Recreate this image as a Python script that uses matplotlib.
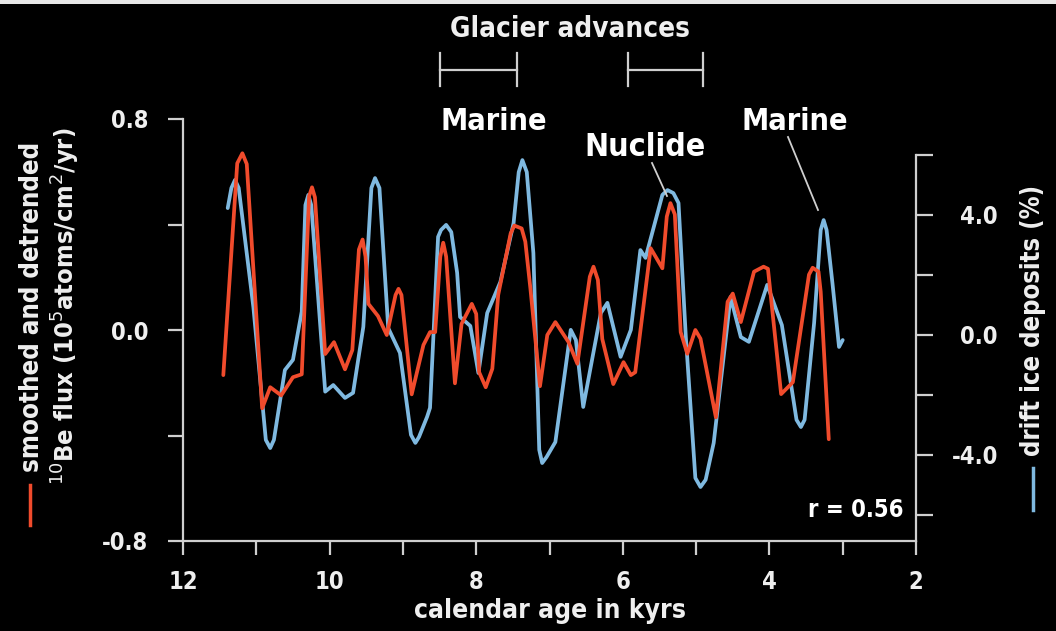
import matplotlib
matplotlib.use("Agg")
import matplotlib.pyplot as plt
import matplotlib.transforms as mtransforms

# ---------------- data ----------------
be_age = [11.45, 11.26, 11.19, 11.13, 10.92, 10.81, 10.66, 10.50, 10.38, 10.28,
          10.24, 10.20, 10.06, 9.94, 9.79, 9.69, 9.60, 9.55, 9.51, 9.47,
          9.34, 9.22, 9.10, 9.06, 9.02, 8.88, 8.72, 8.63, 8.56, 8.49,
          8.45, 8.41, 8.29, 8.20, 8.06, 8.00, 7.96, 7.87, 7.78, 7.70,
          7.53, 7.48, 7.38, 7.33, 7.26, 7.13, 7.03, 6.92, 6.74, 6.62,
          6.45, 6.40, 6.34, 6.28, 6.13, 5.99, 5.89, 5.83, 5.62, 5.46,
          5.40, 5.35, 5.29, 5.21, 5.12, 5.01, 4.94, 4.73, 4.57, 4.50,
          4.39, 4.21, 4.08, 4.02, 3.84, 3.68, 3.46, 3.41, 3.33, 3.30,
          3.19]
be_flux = [-0.171, 0.632, 0.670, 0.629, -0.297, -0.217, -0.248, -0.179, -0.168, 0.507,
           0.541, 0.503, -0.091, -0.046, -0.149, -0.076, 0.305, 0.343, 0.278, 0.099,
           0.053, -0.019, 0.133, 0.156, 0.133, -0.244, -0.057, -0.008, -0.008, 0.278,
           0.331, 0.278, -0.202, 0.023, 0.099, 0.061, -0.160, -0.217, -0.147, 0.133,
           0.366, 0.396, 0.385, 0.335, 0.156, -0.213, -0.019, 0.030, -0.046, -0.128,
           0.202, 0.240, 0.190, -0.034, -0.205, -0.122, -0.171, -0.160, 0.310, 0.234,
           0.430, 0.481, 0.438, -0.008, -0.090, 0.000, -0.033, -0.331, 0.107, 0.138,
           0.030, 0.221, 0.240, 0.232, -0.243, -0.198, 0.210, 0.236, 0.221, 0.145,
           -0.414]

ice_age = [11.39, 11.34, 11.29, 11.24, 11.04, 10.87, 10.81, 10.76, 10.61, 10.50,
           10.38, 10.33, 10.29, 10.25, 10.06, 9.95, 9.79, 9.68, 9.54, 9.43,
           9.38, 9.32, 9.20, 9.04, 8.89, 8.83, 8.78, 8.67, 8.63, 8.52,
           8.48, 8.41, 8.34, 8.26, 8.22, 8.08, 7.97, 7.85, 7.67, 7.49,
           7.42, 7.37, 7.31, 7.22, 7.14, 7.10, 7.04, 6.92, 6.71, 6.64,
           6.54, 6.30, 6.21, 6.03, 5.89, 5.76, 5.69, 5.46, 5.39, 5.31,
           5.24, 5.14, 5.01, 4.94, 4.87, 4.76, 4.53, 4.39, 4.28, 4.03,
           3.83, 3.63, 3.57, 3.52, 3.39, 3.30, 3.26, 3.22, 3.14, 3.05,
           3.00]
ice_pct = [4.23, 4.90, 5.17, 4.90, 0.93, -3.50, -3.77, -3.50, -1.17, -0.83,
           0.78, 4.33, 4.67, 4.33, -1.89, -1.67, -2.10, -1.93, 0.27, 4.90,
           5.23, 4.90, 0.23, -0.60, -3.33, -3.60, -3.40, -2.73, -2.43, 3.27,
           3.50, 3.67, 3.43, 2.07, 0.60, 0.30, -1.27, 0.73, 1.77, 3.73,
           5.43, 5.83, 5.43, 2.73, -3.83, -4.27, -4.07, -3.57, 0.17, -0.17,
           -2.40, 0.73, 1.07, -0.73, 0.17, 2.83, 2.57, 4.67, 4.83, 4.73,
           4.40, -0.07, -4.77, -5.07, -4.83, -3.60, 1.27, -0.07, -0.23, 1.67,
           0.33, -2.83, -3.07, -2.83, 0.40, 3.50, 3.83, 3.50, 1.73, -0.40,
           -0.17]

glacier_advances = [(8.50, 7.45), (5.93, 4.90)]

x_ticks = [12, 11, 10, 9, 8, 7, 6, 5, 4, 3, 2]
x_labels = ["12", "", "10", "", "8", "", "6", "", "4", "", "2"]
left_ticks = [-0.8, -0.4, 0.0, 0.4, 0.8]
left_labels = ["-0.8", "", "0.0", "", "0.8"]
right_ticks = [-6, -4, -2, 0, 2, 4, 6]
right_labels = ["", "-4.0", "", "0.0", "", "4.0", ""]

# ---------------- style ----------------
RED = "#f04b2c"
BLUE = "#7fb9e0"
FG = "#cfcfcf"
TXT = "#efefef"
W, H = 1056, 631
FONT = dict(family="DejaVu Sans", fontweight="bold", fontstretch="condensed")

fig = plt.figure(figsize=(W / 100, H / 100), dpi=100, facecolor="black")
ax = fig.add_axes([183 / W, (H - 541) / H, (916 - 183) / W, (541 - 119) / H])
ax.set_facecolor("black")
ax2 = ax.twinx()

ax2.plot(ice_age, ice_pct, color=BLUE, lw=2.7, solid_joinstyle="round",
         solid_capstyle="round", zorder=2)
ax.plot(be_age, be_flux, color=RED, lw=2.7, solid_joinstyle="round",
        solid_capstyle="round", zorder=3)
ax.set_zorder(ax2.get_zorder() + 1)
ax.patch.set_visible(False)
ax2.patch.set_visible(True)
ax2.patch.set_facecolor("black")

ax.set_xlim(12, 2)
ax.set_ylim(-0.8, 0.8)
ax2.set_ylim(-6.87, 7.2)

for a in (ax, ax2):
    a.spines["top"].set_visible(False)
    for s in a.spines.values():
        s.set_color(FG)
        s.set_linewidth(1.6)
ax.spines["right"].set_visible(False)
ax2.spines["left"].set_visible(False)
ax2.spines["bottom"].set_visible(False)
ax.spines["left"].set_bounds(-0.8, 0.8)
ax2.spines["right"].set_bounds(-6.87, 6)

ax.set_xticks(x_ticks)
ax.set_xticklabels(x_labels)
ax.set_yticks(left_ticks)
ax.set_yticklabels(left_labels)
ax2.set_yticks(right_ticks)
ax2.set_yticklabels(right_labels)

ax.tick_params(axis="x", length=10, width=1.6, color=FG, labelcolor=TXT, pad=11,
               labelsize=17)
ax.tick_params(axis="y", length=11, width=1.6, color=FG, labelcolor=TXT, pad=14,
               labelsize=17)
ax2.tick_params(axis="y", length=12, width=1.6, color=FG, labelcolor=TXT, pad=47,
                labelsize=17)
for lab in ax.get_xticklabels() + ax.get_yticklabels() + ax2.get_yticklabels():
    lab.set_fontweight("bold")
    lab.set_fontstretch("condensed")
for lab in ax2.get_yticklabels():
    lab.set_horizontalalignment("right")

ax.set_xlabel("calendar age in kyrs", color=TXT, fontsize=19, labelpad=3, **FONT)


def fx(px):
    return px / W


def fy(py):
    return 1 - py / H


# left y label (two lines) with red legend dash
fig.text(fx(32), fy(307), "smoothed and detrended", rotation=90, color=TXT,
         fontsize=18.5, ha="center", va="center", **FONT)
fig.text(fx(66), fy(306), r"$^{10}$Be flux (10$^{5}$atoms/cm$^{2}$/yr)",
         rotation=90, color=TXT, fontsize=18.3, ha="center", va="center", **FONT)
fig.add_artist(plt.Line2D([fx(30), fx(30)], [fy(525), fy(485)], color=RED, lw=2.5))

# right y label with blue legend dash
fig.text(fx(1033), fy(320), "drift ice deposits (%)", rotation=90, color=TXT,
         fontsize=18.4, ha="center", va="center", **FONT)
fig.add_artist(plt.Line2D([fx(1033), fx(1033)], [fy(510), fy(468)], color=BLUE, lw=2.5))

# glacier advances
fig.text(fx(570), fy(29), "Glacier advances", color=TXT, fontsize=20,
         ha="center", va="center", **FONT)
trans = mtransforms.blended_transform_factory(ax.transData, ax.transAxes)
yb = (541 - 70) / 422
ylo, yhi = (541 - 86) / 422, (541 - 53) / 422
for a0, a1 in glacier_advances:
    ax.plot([a0, a1], [yb, yb], color=FG, lw=1.6, transform=trans, clip_on=False)
    ax.plot([a0, a0], [ylo, yhi], color=FG, lw=1.6, transform=trans, clip_on=False)
    ax.plot([a1, a1], [ylo, yhi], color=FG, lw=1.6, transform=trans, clip_on=False)

# labels
fig.text(fx(494), fy(121), "Marine", color="white", fontsize=22, ha="center",
         va="center", **FONT)
fig.text(fx(645), fy(147), "Nuclide", color="white", fontsize=23, ha="center",
         va="center", **FONT)
fig.text(fx(795), fy(121), "Marine", color="white", fontsize=22, ha="center",
         va="center", **FONT)
fig.add_artist(plt.Line2D([fx(652), fx(667)], [fy(163), fy(196)], color=FG, lw=1.3))
fig.add_artist(plt.Line2D([fx(788), fx(818)], [fy(137), fy(210)], color=FG, lw=1.3))

fig.text(fx(856), fy(510), "r = 0.56", color="white", fontsize=17, ha="center",
         va="center", **FONT)

# light border along the top edge
fig.add_artist(plt.Rectangle((0, fy(4)), 1, 4 / H, transform=fig.transFigure,
                             color="#e8e8e8", lw=0))

fig.savefig("out.png", dpi=100, facecolor="black")
